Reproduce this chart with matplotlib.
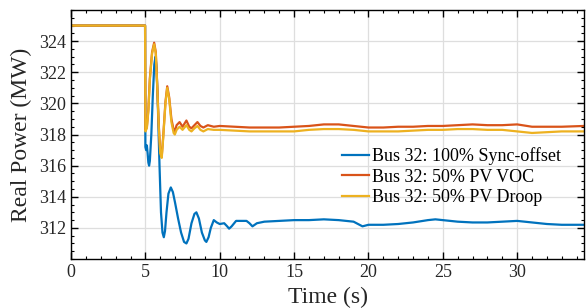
import matplotlib
matplotlib.use("Agg")
import matplotlib.pyplot as plt
from matplotlib.ticker import MultipleLocator

# Dados (tempo em s, potencia em MW)
t_sync = [0, 4.98, 5.0, 5.05, 5.1, 5.15, 5.2, 5.25, 5.3, 5.4, 5.5, 5.6, 5.68, 5.75,
          5.85, 5.95, 6.05, 6.15, 6.24, 6.32, 6.42, 6.55, 6.71, 6.85, 7.0, 7.2, 7.4,
          7.6, 7.76, 7.9, 8.1, 8.3, 8.43, 8.6, 8.8, 9.0, 9.1, 9.25, 9.4, 9.6, 9.8,
          10.0, 10.3, 10.5, 10.63, 10.8, 11.1, 11.5, 11.8, 12.0, 12.2, 12.5, 13, 14,
          15, 16, 17, 18, 19, 19.6, 20, 21, 22, 23, 24, 24.5, 25, 26, 27, 28, 29, 30,
          31, 32, 33, 34.5]
p_sync = [325, 325, 317.2, 317.0, 317.3, 316.8, 316.2, 316.0, 316.3, 318.0, 320.5,
          322.5, 323.0, 322.3, 319.5, 316.0, 313.0, 311.7, 311.4, 311.8, 313.0, 314.2,
          314.6, 314.3, 313.6, 312.6, 311.7, 311.1, 311.0, 311.3, 312.3, 312.9, 313.0,
          312.6, 311.7, 311.2, 311.1, 311.4, 312.0, 312.5, 312.35, 312.25, 312.3,
          312.1, 311.95, 312.1, 312.45, 312.45, 312.45, 312.3, 312.1, 312.3, 312.4,
          312.45, 312.5, 312.5, 312.55, 312.5, 312.4, 312.1, 312.2, 312.2, 312.25,
          312.35, 312.5, 312.55, 312.5, 312.4, 312.35, 312.35, 312.4, 312.45, 312.35,
          312.25, 312.2, 312.2]

t_pv = [0, 4.98, 5.0, 5.1, 5.2, 5.3, 5.45, 5.59, 5.7, 5.8, 5.9, 6.0, 6.1, 6.2, 6.35,
        6.47, 6.6, 6.75, 6.9, 6.98, 7.1, 7.3, 7.5, 7.76, 7.95, 8.1, 8.3, 8.5, 8.7, 8.9,
        9.2, 9.6, 10, 11, 12, 13, 14, 15, 16, 17, 18, 19, 20, 21, 22, 23, 24, 25, 26,
        27, 28, 29, 30, 31, 32, 33, 34.5]
p_voc = [325, 325, 318.3, 318.5, 319.6, 321.6, 323.3, 323.9, 323.3, 321.1, 318.6,
         316.9, 316.6, 317.9, 320.1, 321.1, 320.4, 319.0, 318.3, 318.2, 318.6, 318.8,
         318.5, 318.9, 318.5, 318.4, 318.6, 318.8, 318.55, 318.45, 318.6, 318.5,
         318.55, 318.5, 318.45, 318.45, 318.45, 318.5, 318.55, 318.65, 318.65, 318.55,
         318.45, 318.45, 318.5, 318.5, 318.55, 318.55, 318.6, 318.65, 318.6, 318.6,
         318.65, 318.5, 318.5, 318.5, 318.55]
p_droop = [325, 325, 318.2, 318.4, 319.5, 321.5, 323.2, 323.8, 323.2, 321.0, 318.5,
           316.8, 316.5, 317.8, 320.0, 321.0, 320.3, 318.8, 318.1, 318.0, 318.3, 318.5,
           318.3, 318.6, 318.3, 318.2, 318.4, 318.55, 318.3, 318.2, 318.35, 318.3,
           318.3, 318.25, 318.2, 318.2, 318.2, 318.2, 318.3, 318.35, 318.35, 318.3,
           318.2, 318.2, 318.2, 318.25, 318.3, 318.3, 318.35, 318.35, 318.3, 318.3,
           318.2, 318.1, 318.15, 318.2, 318.2]

nomes = ["Bus 32: 100% Sync-offset", "Bus 32: 50% PV VOC", "Bus 32: 50% PV Droop"]

plt.rcParams["font.family"] = ["Liberation Serif", "DejaVu Serif"]

fig = plt.figure(figsize=(5.87, 3.08), dpi=100)
ax = fig.add_axes([0.121, 0.159, 0.874, 0.8085])

ax.plot(t_sync, p_sync, color="#0072BD", lw=1.6, label=nomes[0])
ax.plot(t_pv, p_voc, color="#D95319", lw=1.6, label=nomes[1])
ax.plot(t_pv, p_droop, color="#EDB120", lw=1.6, label=nomes[2])

ax.set_xlim(0, 34.5)
ax.set_ylim(310, 326)
ax.set_xticks([0, 5, 10, 15, 20, 25, 30])
ax.set_yticks([312, 314, 316, 318, 320, 322, 324])
ax.xaxis.set_minor_locator(MultipleLocator(1))
ax.yaxis.set_minor_locator(MultipleLocator(0.5))
ax.tick_params(which="both", direction="in", top=True, right=True, labelsize=13,
               labelcolor="#262626")
ax.tick_params(which="major", length=5, width=1)
ax.tick_params(which="minor", length=2.5, width=0.8)
for s in ax.spines.values():
    s.set_linewidth(1)

ax.grid(True, color="#dedede", lw=0.9)
ax.set_axisbelow(True)

ax.set_xlabel("Time (s)", fontsize=17, labelpad=4, color="#262626")
ax.set_ylabel("Real Power (MW)", fontsize=17, labelpad=5, color="#262626")

ax.legend(loc="center left", bbox_to_anchor=(0.51, 0.33), frameon=False,
          fontsize=13, handlelength=1.5, handletextpad=0.2, labelspacing=0.2,
          borderpad=0)

fig.savefig("out.png", dpi=100)
